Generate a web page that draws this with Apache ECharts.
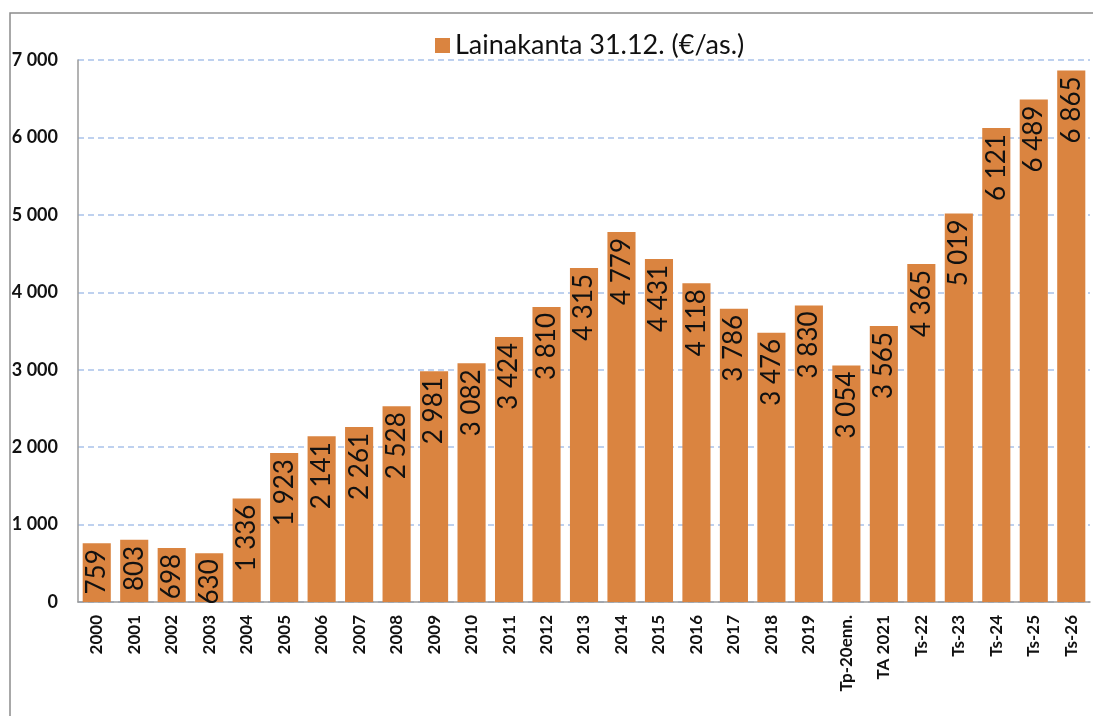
<!DOCTYPE html>
<html>
<head>
<meta charset="utf-8">
<script src="https://cdn.jsdelivr.net/npm/echarts@6/dist/echarts.min.js"></script>
<style>
  html, body { margin: 0; padding: 0; background: #fff; }
  #chart { width: 1093px; height: 716px; }
</style>
</head>
<body>
<div id="chart"></div>
<script>
const categories = ["2000", "2001", "2002", "2003", "2004", "2005", "2006", "2007", "2008", "2009",
  "2010", "2011", "2012", "2013", "2014", "2015", "2016", "2017", "2018", "2019",
  "Tp-20enn.", "TA 2021", "Ts-22", "Ts-23", "Ts-24", "Ts-25", "Ts-26"];
const lainakanta = [759, 803, 698, 630, 1336, 1923, 2141, 2261, 2528, 2981,
  3082, 3424, 3810, 4315, 4779, 4431, 4118, 3786, 3476, 3830,
  3054, 3565, 4365, 5019, 6121, 6489, 6865];
const seriesName = "Lainakanta 31.12. (€/as.)";

// tuhaterotin välilyönnillä
function fmt(v) {
  if (v < 1000) return String(v);
  return Math.floor(v / 1000) + " " + String(v % 1000).padStart(3, "0");
}

let chart = echarts.init(document.getElementById("chart"));
chart.setOption({
  textStyle: { fontFamily: "Lato" },
  graphic: [{
    type: "rect",
    shape: { x: 10, y: 13, width: 1100, height: 720 },
    style: { fill: "none", stroke: "#8c8c8c", lineWidth: 1.5 },
    silent: true,
  }],
  legend: {
    top: 27,
    left: 430,
    itemWidth: 15,
    itemHeight: 15,
    icon: "rect",
    itemGap: 8,
    textStyle: { fontSize: 27, color: "#111", fontFamily: "Lato" },
  },
  grid: {
    left: 78,
    right: 3,
    top: 60,
    bottom: 114,
  },
  xAxis: {
    type: "category",
    data: categories,
    axisTick: { show: false },
    axisLine: { lineStyle: { color: "#9a9a9a", width: 1.5 } },
    axisLabel: {
      rotate: 90,
      interval: 0,
      margin: 13,
      fontSize: 17,
      fontWeight: "bold",
      color: "#111",
      fontFamily: "Lato",
    },
  },
  yAxis: {
    type: "value",
    min: 0,
    max: 7000,
    interval: 1000,
    axisLine: { show: true, lineStyle: { color: "#9a9a9a", width: 1.5 } },
    axisTick: { show: false },
    axisLabel: {
      margin: 20,
      fontSize: 18,
      fontWeight: "bold",
      color: "#111",
      fontFamily: "Lato",
      formatter: fmt,
    },
    splitLine: {
      lineStyle: { color: "#a9c2ea", type: [6, 4], width: 1.5 },
    },
  },
  series: [{
    name: seriesName,
    type: "bar",
    data: lainakanta,
    barCategoryGap: "25%",
    itemStyle: { color: "#da8440" },
    label: {
      show: true,
      position: "insideTop",
      distance: 6,
      rotate: 90,
      align: "right",
      verticalAlign: "middle",
      fontSize: 26,
      color: "#111",
      fontFamily: "Lato",
      formatter: p => fmt(p.value),
    },
  }],
});
</script>
</body>
</html>
